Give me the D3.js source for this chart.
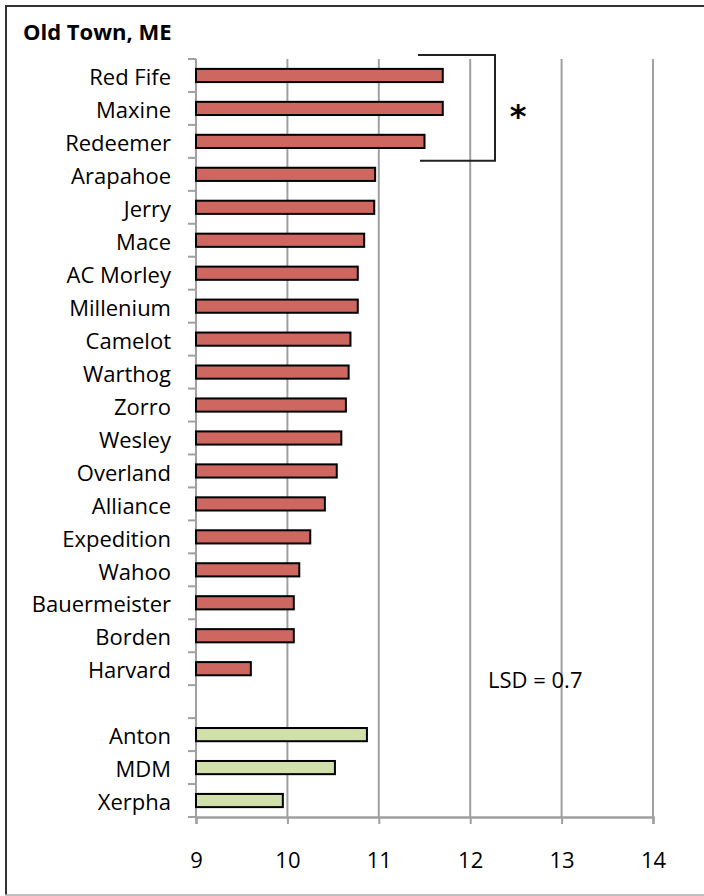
<!DOCTYPE html>
<html>
<head>
<meta charset="utf-8">
<script src="https://cdn.jsdelivr.net/npm/d3@7"></script>
<style>
  body { margin: 0; background: #fff; }
  text { font-family: "Open Sans", "Noto Sans", sans-serif; fill: #000; }
</style>
</head>
<body>
<div class="yieldChart"></div>
<script>
var varieties = ["Red Fife", "Maxine", "Redeemer", "Arapahoe", "Jerry", "Mace", "AC Morley",
    "Millenium", "Camelot", "Warthog", "Zorro", "Wesley", "Overland", "Alliance", "Expedition",
    "Wahoo", "Bauermeister", "Borden", "Harvard"]
var varietyValues = [11.7, 11.7, 11.5, 10.96, 10.95, 10.84, 10.77, 10.77, 10.69, 10.67, 10.64,
    10.59, 10.54, 10.41, 10.25, 10.13, 10.07, 10.07, 9.6]

var checks = ["Anton", "MDM", "Xerpha"]
var checkValues = [10.87, 10.52, 9.95]

var xTicks = [9, 10, 11, 12, 13, 14]
var starred = ["Red Fife", "Maxine", "Redeemer"]

var width = 704;
var height = 896;
var plotLeft = 196, plotRight = 653, plotTop = 59, plotBottom = 817;

// blank slot between the two groups
var slots = varieties.concat([""], checks)

var rows = varieties.map(function(d, i) {
    return { name: d, value: varietyValues[i], check: false };
}).concat(checks.map(function(d, i) {
    return { name: d, value: checkValues[i], check: true };
}))

var x = d3.scaleLinear()
    .domain([9, 14])
    .range([plotLeft, plotRight])

var y = d3.scaleBand()
    .domain(slots)
    .range([plotTop, plotBottom])
    .paddingInner(0.6)
    .paddingOuter(0.3)

var yOuter = d3.scaleBand()
    .domain(slots)
    .range([plotTop, plotBottom])

var canvas = d3.select(".yieldChart")
    .append("svg")
    .attr("width", width)
    .attr("height", height)

// frame
canvas.append("line")
    .attr("x1", 5).attr("x2", width).attr("y1", 6).attr("y2", 6)
    .attr("stroke", "#333").attr("stroke-width", 2)
canvas.append("line")
    .attr("x1", 6).attr("x2", 6).attr("y1", 5).attr("y2", 895)
    .attr("stroke", "#333").attr("stroke-width", 2)
canvas.append("line")
    .attr("x1", 5).attr("x2", width).attr("y1", 895).attr("y2", 895)
    .attr("stroke", "#aaa").attr("stroke-width", 1.5)

canvas.append("text")
    .attr("x", 23)
    .attr("y", 40)
    .style("font-weight", "bold")
    .style("font-size", "22px")
    .text("Old Town, ME")

// gridlines
canvas.selectAll(".grid")
    .data(xTicks.slice(1))
    .enter().append("line")
    .attr("class", "grid")
    .attr("x1", function(d) { return x(d); })
    .attr("x2", function(d) { return x(d); })
    .attr("y1", plotTop)
    .attr("y2", plotBottom)
    .attr("stroke", "#a0a0a0")
    .attr("stroke-width", 2)

var xAxis = d3.axisBottom(x)
    .tickValues(xTicks)
    .tickSize(7)
    .tickFormat(d3.format("d"))

var gx = canvas.append("g")
    .attr("class", "x axis")
    .attr("transform", "translate(0, " + plotBottom + ")")
    .call(xAxis)
gx.select(".domain").attr("stroke", "#a0a0a0").attr("stroke-width", 2.5)
gx.selectAll(".tick line").attr("stroke", "#a0a0a0").attr("stroke-width", 2)
gx.selectAll(".tick text")
    .attr("y", 35)
    .style("font-size", "22px")
    .style("font-family", "'Open Sans', sans-serif")
    .attr("fill", "#000")

// y axis: ticks at band boundaries
var boundaries = slots.map(function(d) { return yOuter(d); }).concat([plotBottom])
var gy = canvas.append("g").attr("class", "y axis")
gy.append("line")
    .attr("x1", plotLeft).attr("x2", plotLeft).attr("y1", plotTop).attr("y2", plotBottom)
    .attr("stroke", "#a0a0a0").attr("stroke-width", 2)
gy.selectAll(".ytick")
    .data(boundaries)
    .enter().append("line")
    .attr("class", "ytick")
    .attr("x1", plotLeft - 8).attr("x2", plotLeft)
    .attr("y1", function(d) { return d; })
    .attr("y2", function(d) { return d; })
    .attr("stroke", "#a0a0a0").attr("stroke-width", 2)

gy.selectAll(".ylabel")
    .data(rows)
    .enter().append("text")
    .attr("class", "ylabel")
    .attr("x", 171)
    .attr("y", function(d) { return yOuter(d.name) + yOuter.bandwidth() / 2 + 2; })
    .attr("dy", "0.35em")
    .style("text-anchor", "end")
    .style("font-size", "22px")
    .text(function(d) { return d.name; })

// bars
canvas.selectAll(".bar")
    .data(rows)
    .enter().append("rect")
    .attr("class", "bar")
    .attr("x", x(9))
    .attr("y", function(d) { return y(d.name); })
    .attr("width", function(d) { return x(d.value) - x(9); })
    .attr("height", y.bandwidth())
    .attr("fill", function(d) { return d.check ? "#d1dfab" : "#cd6760"; })
    .attr("stroke", "#000")
    .attr("stroke-width", 2)

// bracket around the top group
var bTop = yOuter(starred[0]) - 4;
var bBot = yOuter(starred[starred.length - 1]) + yOuter.bandwidth() + 3;
canvas.append("path")
    .attr("d", "M" + 418 + "," + bTop + "H" + 495 + "V" + bBot + "H" + 420)
    .attr("fill", "none")
    .attr("stroke", "#222")
    .attr("stroke-width", 2)

canvas.append("text")
    .attr("x", 518)
    .attr("y", (bTop + bBot) / 2 + 8)
    .attr("dy", "0.35em")
    .style("text-anchor", "middle")
    .style("font-family", "'DejaVu Sans', sans-serif")
    .style("font-weight", "bold")
    .style("font-size", "32px")
    .attr("fill", "#222")
    .text("*")

canvas.append("text")
    .attr("x", 488)
    .attr("y", 680)
    .attr("dy", "0.35em")
    .style("font-size", "22px")
    .text("LSD = 0.7")
</script>
</body>
</html>
